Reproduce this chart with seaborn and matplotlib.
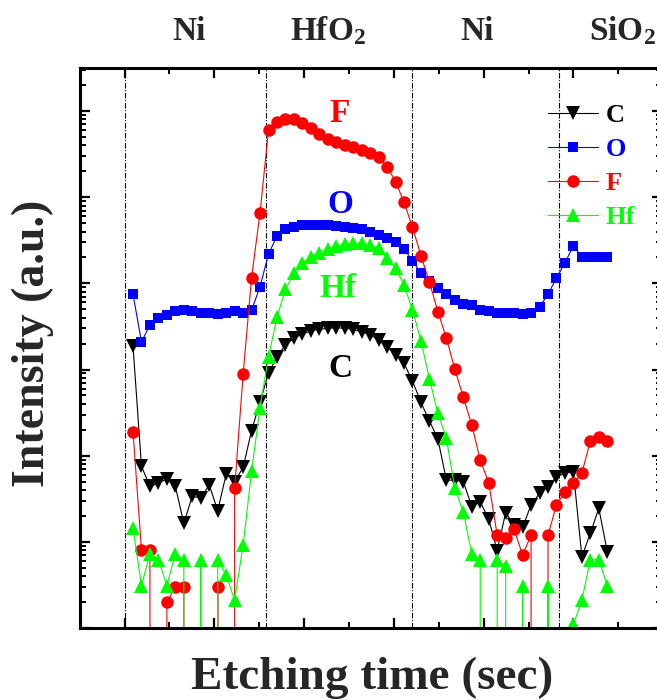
import matplotlib.pyplot as plt
import matplotlib.ticker as mticker
import numpy as np
import pandas as pd
import seaborn as sns

# SIMS depth profile: one value per sputter cycle (counts, log axis)
etch_time = [
    10, 20, 30, 40, 50, 60, 70, 80, 90, 100,
    110, 120, 130, 140, 150, 160, 170, 180, 190, 200,
    210, 220, 230, 240, 250, 260, 270, 280, 290, 300,
    310, 320, 330, 340, 350, 360, 370, 380, 390, 400,
    410, 420, 430, 440, 450, 460, 470, 480, 490, 500,
    510, 520, 530, 540, 550, 560, 570,
]
carbon = [
    1880, 75, 44, 48, 54, 44, 16.4, 34, 32, 46,
    23, 61, 50, 73, 195, 424, 904, 1410, 1930, 2310,
    2590, 2810, 2930, 3010, 3060, 3010, 2930, 2750, 2520, 2200,
    1840, 1480, 1180, 736, 415, 253, 156, 52, 52, 50,
    25.6, 29.2, 18.4, 7.9, 21.8, 15.7, 14.8, 26.8, 36.6, 43.7,
    57, 62.5, 65.2, 6.7, 12.6, 24.5, 7.7,
]
oxygen = [
    7470, 2100, 3290, 4000, 4300, 4780, 4910, 4780, 4570, 4500,
    4380, 4500, 4780, 4570, 4910, 9160, 21900, 35500, 42800, 45700,
    47000, 47600, 47600, 47000, 46300, 45500, 44000, 42300, 39500, 36500,
    33200, 29900, 25100, 18200, 13300, 10700, 8770, 7470, 6410, 5760,
    5610, 4910, 4820, 4500, 4500, 4500, 4420, 4500, 5280, 7530,
    11500, 17400, 27200, 20100, 20100, 20100, 20100,
]
fluorine = [
    190, 8, 8, 0, 2, 3, 3, 0, 0, 0,
    3, 0, 42, 881, 11700, 66200, 604000, 754000, 803000, 803000,
    721000, 631000, 542000, 474000, 434000, 404000, 380000, 353000, 329000, 291000,
    226000, 152000, 87300, 44800, 21000, 10300, 4700, 2310, 1010, 476,
    227, 89, 48.6, 12, 11, 14, 7, 12, 0, 12,
    26.8, 38.2, 48.6, 62.5, 149, 164, 149,
]
hafnium = [
    14.4, 3.1, 7.3, 6.2, 3.1, 7.3, 6.2, 0, 6.2, 0,
    6.2, 4.1, 2.1, 9.2, 66, 362, 1410, 4040, 8550, 13100,
    17100, 20400, 22700, 24900, 27200, 28700, 29200, 29200, 27900, 25500,
    19500, 15000, 9580, 4910, 2150, 777, 311, 159, 41.8, 22.1,
    7.2, 6.2, 0, 6.2, 5.2, 0, 3.1, 0, 0, 3.1,
    0, 0, 1.1, 2.1, 6.2, 6.2, 3.1,
]

layer_names = ["Ni", "HfO$_2$", "Ni", "SiO$_2$"]
interfaces = [0, 167, 339, 513]

profiles = pd.DataFrame(
    {"time": etch_time, "C": carbon, "O": oxygen, "F": fluorine, "Hf": hafnium}
)

# colour, marker, marker size
styles = {
    "C": ("black", "v", 10),
    "O": ("#0000ff", "s", 7.5),
    "F": ("#ff0000", "o", 9),
    "Hf": ("#00ff00", "^", 10),
}

sns.set_style("ticks")
plt.rcParams["font.family"] = ["Liberation Serif", "DejaVu Serif"]
plt.rcParams["font.weight"] = "bold"
plt.rcParams["mathtext.fontset"] = "custom"
plt.rcParams["mathtext.rm"] = "Liberation Serif:bold"
plt.rcParams["mathtext.it"] = "Liberation Serif:bold"
plt.rcParams["mathtext.bf"] = "Liberation Serif:bold"

fig = plt.figure(figsize=(6.57, 7.0), dpi=100)
ax = fig.add_axes([80 / 657, 72 / 700, 582 / 657, 560 / 700])

for x in interfaces:
    ax.axvline(x, color="black", linewidth=0.8, linestyle=(0, (5, 1.5, 1, 1.5)), zorder=1)

for name, (color, marker, ms) in styles.items():
    sns.lineplot(
        data=profiles, x="time", y=name, ax=ax,
        color=color, marker=marker, markersize=ms, markeredgewidth=0,
        linewidth=0.8, label=name, estimator=None, sort=False, errorbar=None,
    )

ax.set_yscale("log")
ax.set_ylim(1, 10 ** 6.5)
ax.set_xlim(-52.6, 634.6)
ax.set(xlabel="", ylabel="")

ax.set_xticks([0, 106, 212, 318, 424, 530])
ax.set_xticks([53, 159, 265, 371, 477, 583], minor=True)
ax.yaxis.set_major_locator(mticker.LogLocator(base=10, numticks=20))
ax.yaxis.set_minor_locator(mticker.LogLocator(base=10, subs=np.arange(2, 10), numticks=20))
ax.xaxis.set_major_formatter(mticker.NullFormatter())
ax.yaxis.set_major_formatter(mticker.NullFormatter())
ax.yaxis.set_minor_formatter(mticker.NullFormatter())
ax.tick_params(which="both", direction="in", top=True, right=True, color="black")
ax.tick_params(which="major", length=7, width=1.6)
ax.tick_params(which="minor", length=4, width=1.4)
for spine in ax.spines.values():
    spine.set_linewidth(2.2)
    spine.set_color("black")

leg = ax.legend(
    loc="upper left", bbox_to_anchor=(0.804, 0.937), frameon=False, fontsize=19,
    handlelength=1.9, handletextpad=0.3, labelspacing=0.40,
    borderaxespad=0, borderpad=0, numpoints=1,
)
for text, (color, _, _) in zip(leg.get_texts(), styles.values()):
    text.set_color(color)

# element tags next to the curves
tag_pos = {"F": (0.447, 0.904), "O": (0.447, 0.741), "Hf": (0.443, 0.591), "C": (0.447, 0.448)}
for name, (xf, yf) in tag_pos.items():
    ax.text(xf, yf, name, transform=ax.transAxes, ha="center", va="baseline",
            fontsize=24, fontweight="bold", color=styles[name][0])

for label, xp in zip(layer_names, [189, 328, 477, 622]):
    fig.text(xp / 657, (700 - 40) / 700, label, ha="center", va="baseline",
             fontsize=24, fontweight="bold")

fig.text(372 / 657, 11 / 700, "Etching time (sec)", ha="center", va="baseline",
         fontsize=34, fontweight="bold")
fig.text(33 / 657, (700 - 343) / 700, "Intensity (a.u.)", rotation=90,
         ha="center", va="center", fontsize=33, fontweight="bold")

fig.savefig("out.png", dpi=100)
